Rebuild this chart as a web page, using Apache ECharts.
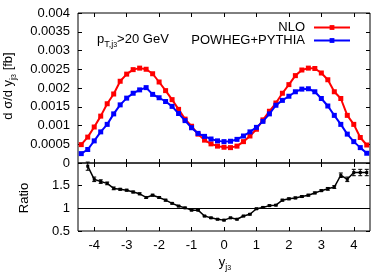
<!DOCTYPE html>
<html>
<head>
<meta charset="utf-8">
<script src="https://cdn.jsdelivr.net/npm/echarts@6/dist/echarts.min.js"></script>
<style>
  html, body { margin: 0; padding: 0; background: #fff; }
  #chart { width: 390px; height: 273px; }
</style>
</head>
<body>
<div id="chart"></div>
<script>
// bin centres in y_j3
const xs = [-4.4, -4.2, -4.0, -3.8, -3.6, -3.4, -3.2, -3.0, -2.8, -2.6, -2.4, -2.2, -2.0, -1.8, -1.6,
  -1.4, -1.2, -1.0, -0.8, -0.6, -0.4, -0.2, 0.0, 0.2, 0.4, 0.6, 0.8, 1.0, 1.2, 1.4,
  1.6, 1.8, 2.0, 2.2, 2.4, 2.6, 2.8, 3.0, 3.2, 3.4, 3.6, 3.8, 4.0, 4.2, 4.4];

// dσ/dy [fb]
const nlo = [0.00049, 0.00069, 0.00096, 0.00125, 0.00158, 0.00184, 0.00218, 0.00237, 0.00249, 0.00253,
  0.00250, 0.00238, 0.00216, 0.00193, 0.00169, 0.00143, 0.00117, 0.00098, 0.00077, 0.00061,
  0.00051, 0.00045, 0.00042, 0.00041, 0.00045, 0.00057, 0.00072, 0.00090, 0.00115, 0.00138,
  0.00160, 0.00186, 0.00209, 0.00233, 0.00248, 0.00253, 0.00252, 0.00240, 0.00222, 0.00190,
  0.00172, 0.00127, 0.00103, 0.00068, 0.00048];

const powheg = [0.00025, 0.00036, 0.00059, 0.00083, 0.00103, 0.00131, 0.00155, 0.00173, 0.00186, 0.00195,
  0.00201, 0.00183, 0.00174, 0.00164, 0.00151, 0.00132, 0.00113, 0.00094, 0.00079, 0.00071,
  0.00064, 0.00059, 0.00057, 0.00058, 0.00063, 0.00072, 0.00083, 0.00095, 0.00111, 0.00131,
  0.00154, 0.00167, 0.00178, 0.00190, 0.00197, 0.00198, 0.00190, 0.00172, 0.00152, 0.00127,
  0.00103, 0.00077, 0.00057, 0.00041, 0.00026];

// NLO / POWHEG+PYTHIA (first bin is off scale)
const ratio = [null, 1.93, 1.64, 1.59, 1.55, 1.44, 1.42, 1.40, 1.36, 1.32,
  1.24, 1.29, 1.24, 1.18, 1.11, 1.05, 1.01, 0.96, 0.96, 0.83,
  0.79, 0.76, 0.74, 0.79, 0.76, 0.83, 0.87, 0.99, 1.02, 1.06,
  1.07, 1.18, 1.21, 1.23, 1.26, 1.29, 1.34, 1.39, 1.43, 1.47,
  1.73, 1.64, 1.79, 1.79, 1.79];

const ratioErr = [0, 0.09, 0.05, 0.04, 0.03, 0.03, 0.02, 0.02, 0.02, 0.02,
  0.02, 0.02, 0.02, 0.02, 0.015, 0.015, 0.015, 0.015, 0.015, 0.015,
  0.015, 0.015, 0.015, 0.015, 0.015, 0.015, 0.015, 0.015, 0.015, 0.015,
  0.015, 0.02, 0.02, 0.02, 0.02, 0.02, 0.02, 0.02, 0.03, 0.03,
  0.05, 0.05, 0.07, 0.07, 0.07];

const xTicks = [-4, -3, -2, -1, 0, 1, 2, 3, 4];

const FONT = "Liberation Sans";

const chart = echarts.init(document.getElementById("chart"));

const frameAxis = (extra) => Object.assign({
  axisLine: { show: false, onZero: false },
  axisTick: { show: true, inside: true, length: 4, lineStyle: { color: "#000" } },
  axisLabel: { show: false },
  splitLine: { show: false },
}, extra);

const xAxisBase = (gridIndex, position, labels) => frameAxis({
  type: "value",
  gridIndex,
  position,
  min: -4.5,
  max: 4.5,
  axisTick: { show: true, inside: true, length: 4, customValues: xTicks, lineStyle: { color: "#000" } },
  axisLabel: labels
    ? { show: true, customValues: xTicks, color: "#000", fontSize: 13, fontFamily: FONT, margin: 8 }
    : { show: false },
});

const subRich = {
  s: { fontSize: 9, fontFamily: FONT, lineHeight: 10, verticalAlign: "bottom" },
  ss: { fontSize: 7, fontFamily: FONT, lineHeight: 6, verticalAlign: "bottom" },
};

const option = {
  animation: false,
  grid: [
    { left: 78, right: 20, top: 13, height: 150, show: true, borderColor: "#000", borderWidth: 1 },
    { left: 78, right: 20, top: 163, height: 68, show: true, borderColor: "#000", borderWidth: 1 },
  ],
  legend: {
    orient: "vertical",
    right: 34,
    top: 16,
    align: "right",
    itemWidth: 36,
    itemHeight: 6,
    itemGap: 0,
    textStyle: { color: "#000", fontSize: 13, fontFamily: FONT, lineHeight: 13, padding: [0, 4, 0, 0] },
    data: ["NLO", "POWHEG+PYTHIA"],
  },
  xAxis: [
    xAxisBase(0, "bottom", false),
    xAxisBase(0, "top", false),
    xAxisBase(1, "bottom", true),
    xAxisBase(1, "top", false),
  ],
  yAxis: [
    frameAxis({
      type: "value", gridIndex: 0, position: "left", min: 0, max: 0.004, interval: 0.0005,
      axisLabel: {
        show: true, color: "#000", fontSize: 13, fontFamily: FONT, margin: 8,
        formatter: (v) => String(+v.toFixed(4)),
      },
    }),
    frameAxis({ type: "value", gridIndex: 0, position: "right", min: 0, max: 0.004, interval: 0.0005 }),
    frameAxis({
      type: "value", gridIndex: 1, position: "left", min: 0.5, max: 2, interval: 0.5,
      axisLabel: {
        show: true, color: "#000", fontSize: 13, fontFamily: FONT, margin: 8,
        formatter: (v) => (v >= 2 ? "" : String(v)),
      },
    }),
    frameAxis({ type: "value", gridIndex: 1, position: "right", min: 0.5, max: 2, interval: 0.5 }),
  ],
  series: [
    {
      name: "NLO",
      type: "line",
      xAxisIndex: 0,
      yAxisIndex: 0,
      data: xs.map((x, i) => [x, nlo[i]]),
      symbol: "rect",
      symbolSize: 5,
      lineStyle: { color: "#ff0000", width: 2 },
      itemStyle: { color: "#ff0000" },
      z: 3,
    },
    {
      name: "POWHEG+PYTHIA",
      type: "line",
      xAxisIndex: 0,
      yAxisIndex: 0,
      data: xs.map((x, i) => [x, powheg[i]]),
      symbol: "rect",
      symbolSize: 5,
      lineStyle: { color: "#0000ff", width: 2 },
      itemStyle: { color: "#0000ff" },
      z: 4,
    },
    {
      name: "ratio",
      type: "line",
      xAxisIndex: 2,
      yAxisIndex: 2,
      data: xs.map((x, i) => [x, ratio[i] == null ? "-" : ratio[i]]),
      symbol: "rect",
      symbolSize: 3,
      lineStyle: { color: "#000", width: 1.5 },
      itemStyle: { color: "#000" },
      markLine: {
        silent: true,
        symbol: "none",
        label: { show: false },
        lineStyle: { color: "#000", width: 1, type: "solid" },
        data: [{ yAxis: 1 }],
      },
    },
    {
      name: "ratioErr",
      type: "custom",
      xAxisIndex: 2,
      yAxisIndex: 2,
      data: xs.map((x, i) => [x, ratio[i] == null ? NaN : ratio[i], ratioErr[i]]),
      renderItem: (params, api) => {
        const y = api.value(1);
        if (isNaN(y)) return;
        const x = api.value(0);
        const e = api.value(2);
        const lo = api.coord([x, y - e]);
        const hi = api.coord([x, y + e]);
        const w = 2;
        const style = { stroke: "#000", lineWidth: 1 };
        return {
          type: "group",
          children: [
            { type: "line", shape: { x1: lo[0], y1: lo[1], x2: hi[0], y2: hi[1] }, style },
            { type: "line", shape: { x1: lo[0] - w, y1: lo[1], x2: lo[0] + w, y2: lo[1] }, style },
            { type: "line", shape: { x1: hi[0] - w, y1: hi[1], x2: hi[0] + w, y2: hi[1] }, style },
          ],
        };
      },
      z: 5,
    },
  ],
  graphic: [
    {
      type: "text",
      left: 97,
      top: 29,
      style: {
        text: "p{s|T,j}{ss|3}>20 GeV",
        fill: "#000",
        font: "13px " + FONT,
        rich: subRich,
        lineHeight: 20,
      },
    },
    {
      type: "text",
      x: 8,
      y: 86,
      rotation: Math.PI / 2,
      style: {
        text: "d σ/d y{s|j}{ss|3} [fb]",
        fill: "#000",
        font: "13px " + FONT,
        align: "center",
        verticalAlign: "middle",
        rich: subRich,
        lineHeight: 20,
      },
    },
    {
      type: "text",
      x: 24,
      y: 198,
      rotation: Math.PI / 2,
      style: {
        text: "Ratio",
        fill: "#000",
        font: "13px " + FONT,
        align: "center",
        verticalAlign: "middle",
      },
    },
    {
      type: "text",
      x: 225,
      y: 262,
      style: {
        text: "y{s|j}{ss|3}",
        fill: "#000",
        font: "13px " + FONT,
        align: "center",
        verticalAlign: "middle",
        rich: subRich,
        lineHeight: 20,
      },
    },
  ],
};

chart.setOption(option);
</script>
</body>
</html>
